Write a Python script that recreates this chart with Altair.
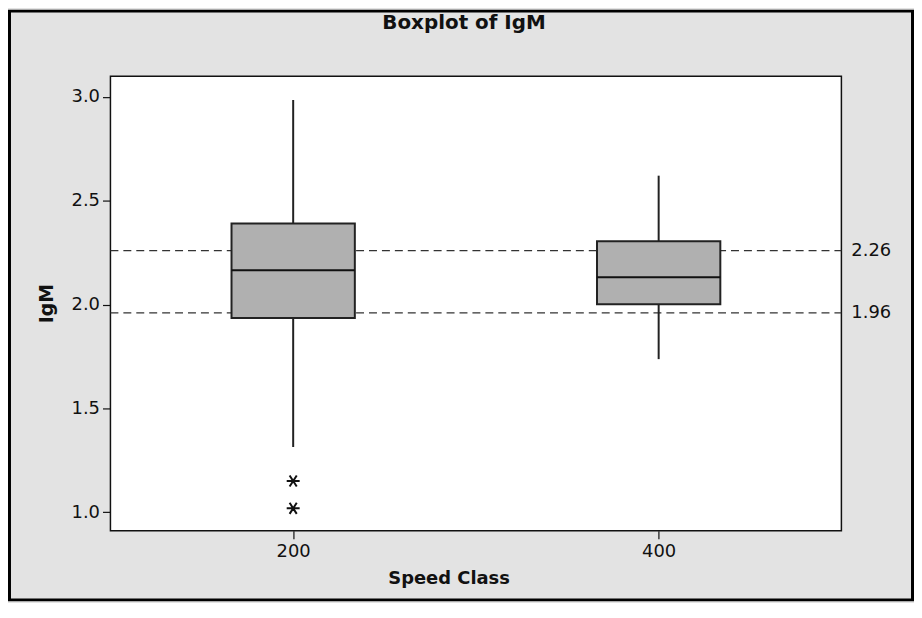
import altair as alt
import pandas as pd

# ---- data ----
speed = [200, 400]
q1 = [1.935, 2.001]
median = [2.165, 2.132]
q3 = [2.391, 2.305]
whisk_lo = [1.313, 1.737]
whisk_hi = [2.986, 2.621]
out_speed = [200, 200]
out_val = [1.150, 1.018]
ref_vals = [2.26, 1.96]
ref_labels = ["2.26", "1.96"]
y_ticks = [1.0, 1.5, 2.0, 2.5, 3.0]
x_ticks = [200, 400]
TITLE = "Boxplot of IgM"

W, H = 735, 457
FONT = "DejaVu Sans"
BOX_W = 124
ASTERISK = "M-1,0L1,0M-0.55,-0.85L0.55,0.85M-0.55,0.85L0.55,-0.85"

boxes = pd.DataFrame({"speed": speed, "q1": q1, "median": median, "q3": q3,
                      "lo": whisk_lo, "hi": whisk_hi})
outs = pd.DataFrame({"speed": out_speed, "val": out_val})
refs = pd.DataFrame({"ref": ref_vals, "label": ref_labels})
single = pd.DataFrame({"title": [TITLE]})

xscale = alt.Scale(domain=[100, 500], nice=False, zero=False, padding=0)
yscale = alt.Scale(domain=[0.91, 3.10], nice=False, zero=False, padding=0)

x_axis = alt.Axis(values=x_ticks, format="d", title="Speed Class", grid=False, domain=False,
                  labelFont=FONT, labelFontSize=18, labelColor="#111", labelPadding=4,
                  tickSize=8, tickColor="#111", tickWidth=1.2,
                  titleFont=FONT, titleFontSize=18, titleFontWeight="bold", titleColor="#111",
                  titleX=340, titleY=48, titleAlign="center", titleBaseline="middle")
y_axis = alt.Axis(values=y_ticks, format=".1f", title="IgM", grid=False, domain=False,
                  labelFont=FONT, labelFontSize=18, labelColor="#111", labelPadding=3,
                  tickSize=8, tickColor="#111", tickWidth=1.2,
                  titleFont=FONT, titleFontSize=19, titleFontWeight="bold", titleColor="#111",
                  titleX=-64, titleY=228, titleAngle=270, titleAlign="center",
                  titleBaseline="middle")


def X(field):
    return alt.X(field, scale=xscale, axis=x_axis)


def Y(field):
    return alt.Y(field, scale=yscale, axis=y_axis)


ref_rules = alt.Chart(refs).mark_rule(color="#333", strokeWidth=1.3, strokeDash=[8, 5]).encode(
    y=Y("ref:Q"), x=alt.value(0), x2=alt.value(W))

ref_text = alt.Chart(refs).mark_text(align="left", baseline="middle", font=FONT,
                                     fontSize=18, color="#111").encode(
    y=Y("ref:Q"), x=alt.value(W + 10), text="label:N")

whiskers = alt.Chart(boxes).mark_rule(color="#222", strokeWidth=2).encode(
    x=X("speed:Q"), y=Y("lo:Q"), y2="hi:Q")

box = alt.Chart(boxes).mark_bar(size=BOX_W, color="#b0b0b0", stroke="#222",
                                strokeWidth=2).encode(
    x=X("speed:Q"), y=Y("q1:Q"), y2="q3:Q")

med = alt.Chart(boxes).mark_tick(orient="horizontal", size=BOX_W, thickness=2,
                                 color="#111", opacity=1).encode(
    x=X("speed:Q"), y=Y("median:Q"))

outl = alt.Chart(outs).mark_point(shape=ASTERISK, size=170, filled=False,
                                  stroke="#111", strokeWidth=2, opacity=1).encode(
    x=X("speed:Q"), y=Y("val:Q"))

title_txt = alt.Chart(single).mark_text(align="center", baseline="middle", font=FONT,
                                        fontSize=20, fontWeight="bold", color="#111").encode(
    x=alt.value(W / 2 - 12), y=alt.value(-54), text="title:N")

frame = alt.Chart(single).mark_rect(fill="transparent", stroke="#000",
                                    strokeWidth=3).encode(
    x=alt.value(-101.5), x2=alt.value(W + 71.5),
    y=alt.value(-65.5), y2=alt.value(H + 69.5))

chart = alt.layer(ref_rules, whiskers, box, med, outl, ref_text, title_txt, frame).properties(
    width=W, height=H,
    autosize=alt.AutoSizeParams(type="none"),
    padding={"left": 103, "top": 67, "right": 73, "bottom": 71},
).configure(background="#e3e3e3").configure_view(
    fill="white", stroke="#111", strokeWidth=1.5)

chart.save("out.html", embed_options={"renderer": "svg", "actions": False})
